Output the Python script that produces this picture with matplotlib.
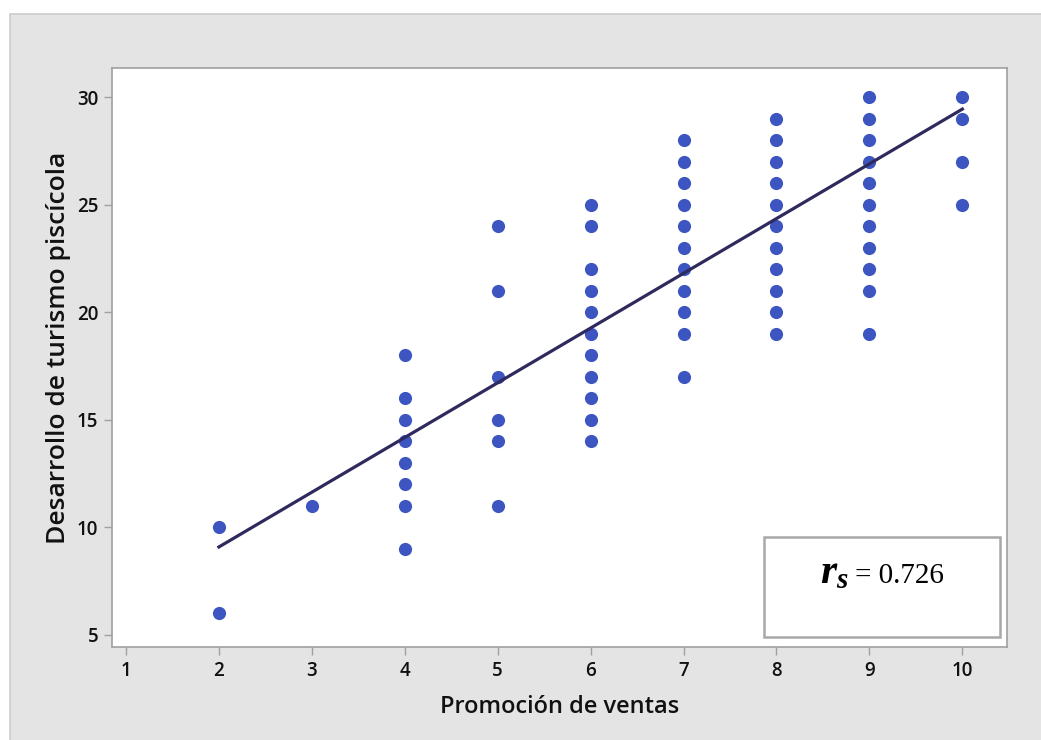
"""Scatter of promoción de ventas vs desarrollo de turismo piscícola."""

import matplotlib
matplotlib.use("Agg")
import matplotlib.pyplot as plt
from matplotlib.patches import Rectangle

# x values and y values
promocion = (
    [2, 2]
    + [3]
    + [4] * 8
    + [5] * 6
    + [6] * 11
    + [7] * 11
    + [8] * 11
    + [9] * 11
    + [10] * 4
)
turismo = (
    [10, 6]
    + [11]
    + [18, 16, 15, 14, 13, 12, 11, 9]
    + [24, 21, 17, 15, 14, 11]
    + [25, 24, 22, 21, 20, 19, 18, 17, 16, 15, 14]
    + [28, 27, 26, 25, 24, 23, 22, 21, 20, 19, 17]
    + [29, 28, 27, 26, 25, 24, 23, 22, 21, 20, 19]
    + [30, 29, 28, 27, 26, 25, 24, 23, 22, 21, 19]
    + [30, 29, 27, 25]
)

# fitted line as drawn in the picture
fit_x = [2, 10]
fit_intercept = 4.0
fit_slope = 2.544
rs_value = 0.726

x_ticks = list(range(1, 11))
y_ticks = [5, 10, 15, 20, 25, 30]

plt.rcParams["font.family"] = ["Open Sans", "DejaVu Sans"]
plt.rcParams["mathtext.fontset"] = "custom"
plt.rcParams["mathtext.rm"] = "Liberation Serif"
plt.rcParams["mathtext.it"] = "Liberation Serif:italic"
plt.rcParams["mathtext.bf"] = "Liberation Serif:italic:bold"

fig = plt.figure(figsize=(10.41, 7.4), dpi=100)
fig.patch.set_facecolor("white")
# gray panel of the graph window, with its light border on top and left
fig.patches.append(Rectangle((0.0096, -0.01), 1.0, 0.991, transform=fig.transFigure,
                             facecolor="#E4E4E4", edgecolor="#CCCCCC", linewidth=1.2,
                             zorder=-10))

ax = fig.add_axes([0.1076, 0.1257, 0.8597, 0.7824])
ax.set_zorder(1)
ax.set_facecolor("white")

ax.scatter(promocion, turismo, s=90, color="#3D55C0", linewidths=0, zorder=3)
fit_y = [fit_intercept + fit_slope * v for v in fit_x]
ax.plot(fit_x, fit_y, color="#2E2A5E", linewidth=2.3, zorder=4)

ax.set_xlim(0.85, 10.48)
ax.set_ylim(4.44, 31.35)
ax.set_xticks(x_ticks)
ax.set_yticks(y_ticks)

for sp in ax.spines.values():
    sp.set_color("#A0A0A0")
    sp.set_linewidth(1.2)
ax.tick_params(direction="out", length=6, width=1.0, color="#A0A0A0",
               labelsize=13.5, labelcolor="#111111", pad=4)
for lbl in ax.get_xticklabels() + ax.get_yticklabels():
    lbl.set_fontweight("semibold")

ax.set_xlabel("Promoción de ventas", fontsize=17, labelpad=10, color="#111111",
              fontweight="semibold")
ax.set_ylabel("Desarrollo de turismo piscícola", fontsize=19, labelpad=4,
              color="#111111", fontweight="semibold")
ax.yaxis.label.set_y(0.517)

ax.add_patch(Rectangle((0.7285, 0.0173), 0.2635, 0.1727, transform=ax.transAxes,
                       fill=True, facecolor="white", edgecolor="#A8A8A8",
                       linewidth=1.8, zorder=5))
ax.text(0.823, 0.11, r"$\mathbf{r_s}$", transform=ax.transAxes,
        ha="right", va="baseline", fontsize=30, family="Liberation Serif", zorder=6)
ax.text(0.830, 0.11, f"= {rs_value}", transform=ax.transAxes,
        ha="left", va="baseline", fontsize=21, family="Liberation Serif", zorder=6)

fig.savefig("out.png", dpi=100, facecolor=fig.get_facecolor())
